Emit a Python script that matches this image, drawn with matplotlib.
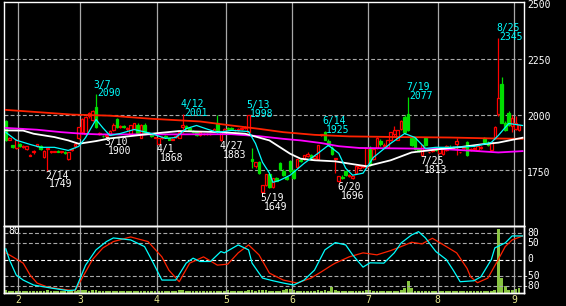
import matplotlib
matplotlib.use('Agg')
import matplotlib.pyplot as plt
from matplotlib.patches import Rectangle
import pandas as pd

# trading calendar (Tokyo, 2022)
holidays = ['2022-02-11', '2022-02-23', '2022-03-21', '2022-04-29', '2022-05-03',
            '2022-05-04', '2022-05-05', '2022-07-18', '2022-08-11']
dates = pd.bdate_range('2022-01-26', periods=149, freq='C', holidays=holidays)

# daily OHLC
opens = [1969, 1888, 1862, 1850, 1870, 1855, 1845, 1816, 1830, 1860,
         1860, 1810, 1845, 1833, 1834, 1836, 1833, 1832, 1800, 1840,
         1857, 1897, 1920, 1915, 1995, 1975, 2036, 1914, 1905, 1905,
         1915, 1930, 1978, 1945, 1948, 1935, 1915, 1937, 1955, 1897,
         1955, 1918, 1915, 1896, 1870, 1895, 1905, 1893, 1888, 1900,
         1897, 1945, 1950, 1940, 1928, 1920, 1908, 1912, 1912, 1913,
         1925, 1964, 1884, 1925, 1940, 1939, 1930, 1930, 1935, 1940,
         1920, 1800, 1770, 1785, 1652, 1683, 1732, 1674, 1714, 1781,
         1745, 1720, 1790, 1750, 1763, 1795, 1799, 1815, 1820, 1805,
         1799, 1909, 1920, 1880, 1850, 1800, 1700, 1720, 1745, 1725,
         1714, 1740, 1760, 1764, 1763, 1848, 1799, 1848, 1880, 1860,
         1853, 1884, 1915, 1888, 1935, 1991, 2004, 1897, 1893, 1845,
         1820, 1893, 1831, 1835, 1845, 1826, 1822, 1840, 1855, 1850,
         1870, 1830, 1850, 1875, 1840, 1845, 1840, 1850, 1897, 1870,
         1840, 1893, 2004, 2138, 1964, 2009, 1950, 1933, 1929]
highs = [1975, 1898, 1864, 1890, 1872, 1862, 1860, 1822, 1842, 1870,
         1862, 1840, 1852, 1838, 1838, 1840, 1838, 1836, 1832, 1850,
         1872, 1945, 1985, 1995, 2010, 2020, 2090, 1920, 1910, 1912,
         1930, 1960, 1985, 1955, 1952, 1945, 1955, 1963, 1960, 1958,
         1960, 1922, 1918, 1900, 1895, 1905, 1910, 1896, 1895, 1910,
         1922, 2001, 1955, 1945, 1932, 1924, 1922, 1916, 1916, 1916,
         1940, 2000, 1926, 1940, 1945, 1945, 1934, 1940, 1945, 1950,
         1998, 1848, 1786, 1790, 1685, 1735, 1735, 1716, 1718, 1785,
         1755, 1724, 1795, 1755, 1802, 1805, 1820, 1830, 1825, 1820,
         1865, 1915, 1925, 1890, 1858, 1805, 1726, 1728, 1748, 1735,
         1725, 1775, 1772, 1775, 1850, 1860, 1848, 1900, 1890, 1872,
         1886, 1922, 1950, 1932, 1975, 2000, 2077, 1905, 1898, 1850,
         1865, 1898, 1834, 1845, 1855, 1852, 1850, 1862, 1865, 1860,
         1897, 1834, 1860, 1880, 1850, 1855, 1862, 1858, 1900, 1880,
         1878, 1948, 2345, 2170, 1970, 2015, 2000, 1995, 1955]
lows = [1880, 1885, 1850, 1846, 1855, 1848, 1843, 1812, 1825, 1855,
        1840, 1806, 1749, 1828, 1830, 1830, 1829, 1825, 1796, 1835,
        1852, 1890, 1915, 1910, 1985, 1970, 1940, 1910, 1901, 1900,
        1910, 1925, 1940, 1938, 1940, 1928, 1912, 1935, 1912, 1893,
        1912, 1914, 1900, 1893, 1868, 1890, 1895, 1884, 1884, 1895,
        1895, 1918, 1935, 1925, 1918, 1906, 1905, 1910, 1910, 1910,
        1920, 1915, 1883, 1920, 1930, 1930, 1926, 1925, 1930, 1935,
        1915, 1760, 1760, 1735, 1649, 1680, 1672, 1670, 1700, 1750,
        1725, 1708, 1740, 1712, 1760, 1785, 1795, 1808, 1796, 1800,
        1795, 1905, 1885, 1860, 1820, 1740, 1696, 1712, 1726, 1720,
        1710, 1735, 1755, 1760, 1760, 1770, 1795, 1845, 1860, 1850,
        1850, 1880, 1905, 1885, 1930, 1915, 1925, 1858, 1840, 1830,
        1813, 1858, 1828, 1830, 1838, 1822, 1818, 1838, 1848, 1845,
        1817, 1826, 1845, 1815, 1835, 1840, 1838, 1845, 1874, 1860,
        1838, 1890, 1995, 1960, 1925, 1948, 1920, 1930, 1925]
closes = [1888, 1895, 1855, 1888, 1858, 1860, 1857, 1818, 1838, 1866,
          1845, 1835, 1850, 1836, 1836, 1834, 1835, 1828, 1830, 1845,
          1870, 1942, 1982, 1991, 2005, 2015, 1946, 1916, 1902, 1908,
          1925, 1955, 1942, 1950, 1944, 1940, 1951, 1960, 1915, 1955,
          1915, 1920, 1905, 1898, 1893, 1900, 1898, 1886, 1892, 1905,
          1920, 1952, 1940, 1930, 1922, 1908, 1920, 1914, 1914, 1915,
          1935, 1920, 1924, 1935, 1936, 1935, 1932, 1935, 1940, 1945,
          1996, 1790, 1785, 1737, 1683, 1732, 1674, 1714, 1703, 1754,
          1730, 1712, 1745, 1714, 1799, 1790, 1817, 1825, 1799, 1815,
          1862, 1913, 1888, 1865, 1825, 1804, 1723, 1716, 1728, 1730,
          1723, 1770, 1768, 1772, 1848, 1772, 1844, 1897, 1870, 1865,
          1884, 1920, 1930, 1929, 1970, 1920, 1929, 1862, 1844, 1835,
          1862, 1862, 1832, 1840, 1842, 1848, 1846, 1860, 1852, 1855,
          1882, 1832, 1855, 1817, 1845, 1850, 1860, 1855, 1875, 1865,
          1875, 1946, 2076, 1964, 1929, 1951, 1985, 1964, 1951]
volume = [14, 11, 10, 11, 10, 10, 10, 11, 10, 10,
          10, 11, 13, 10, 9, 10, 9, 10, 11, 11,
          11, 13, 15, 13, 12, 13, 17, 11, 10, 11,
          10, 10, 11, 10, 9, 10, 11, 10, 11, 10,
          10, 9, 10, 10, 11, 10, 11, 10, 10, 11,
          16, 13, 11, 10, 9, 10, 10, 9, 10, 10,
          11, 11, 11, 10, 16, 10, 9, 10, 11, 11,
          13, 16, 12, 13, 15, 13, 11, 11, 11, 10,
          13, 20, 22, 13, 11, 11, 11, 10, 11, 11,
          13, 12, 16, 11, 30, 13, 11, 10, 10, 11,
          10, 11, 10, 11, 13, 13, 12, 11, 11, 10,
          11, 11, 12, 11, 15, 26, 58, 25, 11, 11,
          11, 11, 10, 10, 11, 10, 11, 10, 10, 11,
          11, 10, 11, 11, 12, 10, 10, 11, 11, 11,
          12, 15, 320, 75, 33, 16, 14, 20, 26]

# moving averages (day index, price)
ma_long_x = [0, 10, 19, 30, 42, 56, 65, 73, 80, 89, 99, 114, 128, 140, 149]
ma_long = [2021, 2010, 2000, 1995, 1981, 1969, 1951, 1936, 1921, 1909, 1902, 1899, 1897, 1893, 1891]
ma_mid_x = [0, 9, 16, 22, 27, 45, 65, 73, 80, 85, 91, 96, 102, 114, 125, 134, 142, 149]
ma_mid = [1940, 1932, 1921, 1914, 1911, 1911, 1912, 1903, 1891, 1884, 1872, 1858, 1850, 1848, 1846, 1838, 1830, 1836]
ma_25_x = [0, 5, 8, 14, 18, 21, 26, 30, 42, 50, 62, 69, 76, 79, 82, 85, 89, 95, 99, 104,
           111, 117, 125, 131, 137, 142, 149]
ma_25 = [1929, 1928, 1914, 1899, 1884, 1869, 1881, 1893, 1914, 1926, 1921, 1914, 1884, 1854,
         1824, 1802, 1795, 1790, 1780, 1768, 1795, 1830, 1845, 1854, 1866, 1874, 1896]
ma_5_x = [0, 3, 7, 10, 14, 18, 21, 23, 26, 28, 30, 33, 37, 42, 46, 49, 52, 55, 58, 61, 65,
          70, 72, 74, 76, 77, 79, 82, 86, 90, 93, 96, 98, 100, 103, 106, 111, 115, 118, 121,
          124, 128, 135, 140, 142, 145, 149]
ma_5 = [1920, 1885, 1866, 1853, 1853, 1839, 1857, 1897, 1978, 1940, 1906, 1915, 1933, 1915,
        1893, 1897, 1937, 1951, 1935, 1920, 1929, 1924, 1870, 1786, 1737, 1696, 1705, 1728,
        1781, 1826, 1862, 1826, 1759, 1728, 1737, 1808, 1871, 1915, 1897, 1848, 1853, 1853,
        1857, 1875, 1906, 1960, 1951]

# oscillator (day index, value)
osc_fast_x = [0, 1, 3, 5, 8, 13, 18, 20, 21, 23, 26, 29, 31, 36, 40, 42, 45, 49, 52, 54, 56,
              59, 62, 63, 67, 70, 71, 74, 77, 80, 83, 86, 89, 92, 95, 98, 100, 103, 105, 109,
              112, 114, 117, 119, 121, 124, 127, 129, 131, 135, 137, 140, 141, 144, 146, 149]
osc_fast = [32, 0, -47, -62, -77, -86, -94, -92, -68, -17, 29, 54, 65, 59, 39, 0, -62, -62,
            -11, 4, -6, -6, 24, 20, 44, 29, -11, -56, -64, -71, -77, -62, -32, 29, 51, 44, 14,
            -23, -10, -11, 20, 50, 74, 84, 65, 24, 0, -32, -67, -64, -52, 0, 35, 50, 71, 71]
osc_slow_x = [0, 2, 5, 7, 9, 12, 18, 20, 22, 25, 28, 31, 36, 41, 45, 47, 50, 53, 57, 61, 64,
              67, 70, 73, 76, 80, 84, 88, 91, 94, 95, 99, 103, 107, 111, 114, 117, 120, 123,
              127, 130, 133, 134, 136, 139, 142, 144, 146, 149]
osc_slow = [20, 8, -11, -47, -71, -83, -92, -94, -56, 0, 35, 54, 68, 54, 8, -32, -67, -11, 8,
            -17, -14, 20, 44, 14, -41, -62, -71, -56, -37, -17, -11, 8, 20, 14, 27, 39, 52, 47,
            64, 39, 20, -27, -52, -70, -56, 0, 39, 59, 71]

high_marks = ['2022-03-07', '2022-04-12', '2022-05-13', '2022-06-14', '2022-07-19', '2022-08-25']
low_marks = ['2022-02-14', '2022-03-10', '2022-04-01', '2022-04-27', '2022-05-19', '2022-06-20', '2022-07-25']

price_ticks = [2500, 2250, 2000, 1750]
osc_ticks = [80, 50, 0, -50, -80]

W, H = 566, 306
fig = plt.figure(figsize=(W / 100, H / 100), dpi=100, facecolor='black')
x0, x1 = 4.1, 524.3
ax = fig.add_axes([x0 / W, (H - 226) / H, (x1 - x0) / W, 224 / H])
ax2 = fig.add_axes([x0 / W, (H - 293) / H, (x1 - x0) / W, 67 / H])
ax3 = ax2.twinx()
ax2.set_zorder(ax3.get_zorder() + 1)
ax2.patch.set_visible(False)

n = len(dates)
font = dict(family='DejaVu Sans Mono', size=7)
grey = '#a8a8a8'

for a in (ax, ax2, ax3):
    a.set_facecolor('black')
    a.set_xlim(-0.5, n + 0.5)
    a.set_xticks([])
    a.set_yticks([])
    for s in a.spines.values():
        s.set_color('white')
        s.set_linewidth(1.0)

ax.set_ylim(1500, 2505)
ax2.set_ylim(-101, 101)
ax3.set_ylim(0, 335)

# month separators and labels
month_starts = [i for i in range(1, n) if dates[i].month != dates[i - 1].month]
for i in month_starts:
    ax.axvline(i - 0.5, color=grey, lw=0.9, zorder=1)
    ax2.axvline(i - 0.5, color=grey, lw=0.9, zorder=1)
    ax2.text(i - 0.5, -0.03, str(dates[i].month), transform=ax2.get_xaxis_transform(),
             ha='center', va='top', color='#e8e890', clip_on=False, **font)

for p in price_ticks[1:]:
    ax.axhline(p, color=grey, lw=0.8, dashes=(3.5, 2), zorder=1)
for v in osc_ticks:
    ax2.axhline(v, color='white' if v == 0 else grey, lw=0.8, dashes=(3.5, 2), zorder=1)

# candles
for i, (o, h, l, c) in enumerate(zip(opens, highs, lows, closes)):
    up = c >= o
    col = '#ff0000' if up else '#00dd00'
    ax.vlines(i, l, h, color=col, lw=0.9, zorder=2)
    ax.add_patch(Rectangle((i - 0.37, min(o, c)), 0.74, max(abs(c - o), 2),
                           facecolor='black' if up else col, edgecolor=col, lw=0.9, zorder=2.5))

ax.plot(ma_long_x, ma_long, color='#ff2200', lw=1.3, zorder=3)
ax.plot(ma_mid_x, ma_mid, color='#ff00ff', lw=1.3, zorder=3)
ax.plot(ma_25_x, ma_25, color='white', lw=1.3, zorder=3)
ax.plot(ma_5_x, ma_5, color='#00ffff', lw=0.9, zorder=3)

# high / low labels
idx = {d.strftime('%Y-%m-%d'): i for i, d in enumerate(dates)}
for d in high_marks:
    i = idx[d]
    lab = f'{dates[i].month}/{dates[i].day}'
    ax.annotate(lab, (i, highs[i]), xytext=(-1.6, 5.0), textcoords='offset points',
                ha='left', va='baseline', color='#00ffff', **font)
    ax.annotate(str(highs[i]), (i, highs[i]), xytext=(0.8, -1.4), textcoords='offset points',
                ha='left', va='baseline', color='#00ffff', **font)
for d in low_marks:
    i = idx[d]
    lab = f'{dates[i].month}/{dates[i].day}'
    ax.annotate(lab, (i, lows[i]), xytext=(-1.2, -5.8), textcoords='offset points',
                ha='left', va='baseline', color='white', **font)
    ax.annotate(str(lows[i]), (i, lows[i]), xytext=(1.3, -12.2), textcoords='offset points',
                ha='left', va='baseline', color='white', **font)

# right scale labels
for p in price_ticks:
    ax.annotate(str(p), (1.005, p), xycoords=ax.get_yaxis_transform(),
                xytext=(0, -1.6), textcoords='offset points', ha='left', va='center',
                color='white', annotation_clip=False, **font)
for v in osc_ticks:
    xo = 1.005 if v >= 0 else 0.9955
    ax2.text(xo, v, str(v), transform=ax2.get_yaxis_transform(), ha='left', va='center',
             color='white', clip_on=False, **font)
ax2.text(0.008, 86, '80', transform=ax2.get_yaxis_transform(), ha='left', va='center',
         color='white', **font)

# volume and oscillator
ax3.bar(range(n), volume, width=0.8, color='#88c440', zorder=1)
ax2.plot(osc_slow_x, osc_slow, color='#ff2200', lw=0.9, zorder=3)
ax2.plot(osc_fast_x, osc_fast, color='#00ffff', lw=0.9, zorder=3)

fig.savefig('out.png', dpi=100, facecolor='black')
